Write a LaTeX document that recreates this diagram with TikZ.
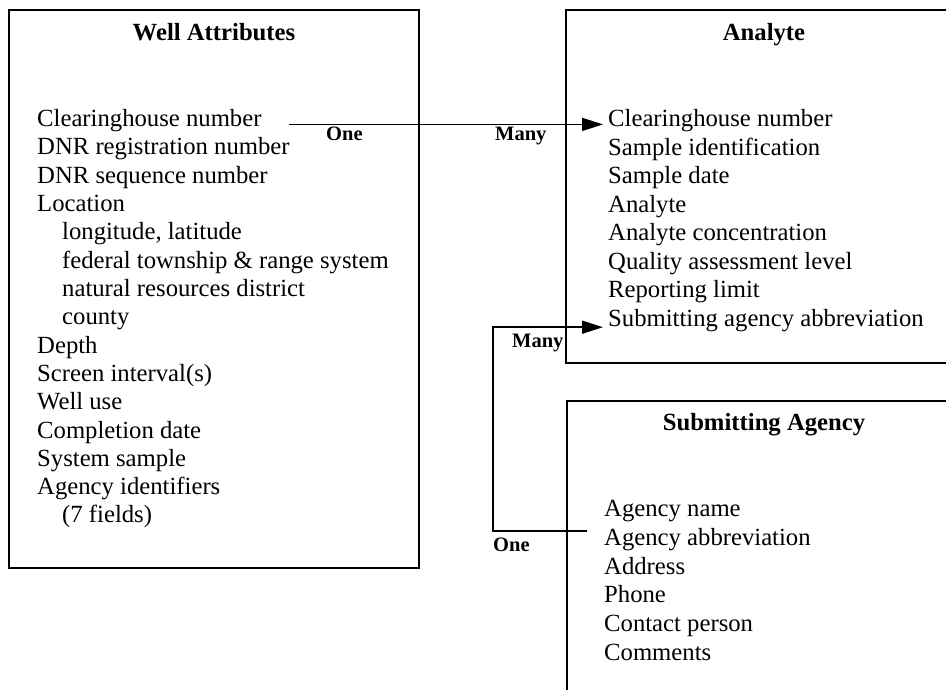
\documentclass[tikz,border=0pt]{standalone}
\usepackage{fontspec}
\setmainfont{Liberation Serif}
\usetikzlibrary{arrows.meta}

\tikzset{
  entity/.style={line width=2pt},
  heading/.style={font=\fontsize{24.7}{28.4}\selectfont\bfseries, anchor=base, inner sep=0pt},
  field/.style={font=\fontsize{24.7}{28.4}\selectfont, anchor=base west, inner sep=0pt},
  card/.style={font=\fontsize{20.5}{24}\selectfont\bfseries, anchor=base west, inner sep=0pt},
  rel/.style={line width=1.7pt, -{Triangle[length=21pt,width=13pt]}},
}

\begin{document}
\begin{tikzpicture}[x=1pt,y=-1pt]
\useasboundingbox (0,0) rectangle (946,690);
\clip (0,0) rectangle (946,690);

% entity boxes
\draw[entity] (9,10) rectangle (419,568);
\draw[entity] (566,10) rectangle (962,363);
\draw[entity] (567,401) rectangle (962,720);

\node[heading] (well) at (214,41) {Well Attributes};
\node[heading] (analyte) at (764,41) {Analyte};
\node[heading] (agency) at (764,430) {Submitting Agency};

% fields
\foreach \x/\t [count=\i from 0] in {37/Clearinghouse number, 37/DNR registration number,
    37/DNR sequence number, 37/Location, 62/{longitude, latitude},
    62/federal township \& range system, 62/natural resources district, 62/county,
    37/Depth, 37/Screen interval(s), 37/Well use, 37/Completion date,
    37/System sample, 37/Agency identifiers, 62/(7 fields)}
  \node[field] (w\i) at (\x,126.7+28.3*\i) {\t};

\foreach \t [count=\i from 0] in {Clearinghouse number, Sample identification, Sample date,
    Analyte, Analyte concentration, Quality assessment level, Reporting limit,
    Submitting agency abbreviation}
  \node[field] (a\i) at (608,126.7+28.5*\i) {\t};

\foreach \t [count=\i from 0] in {Agency name, Agency abbreviation, Address, Phone,
    Contact person, Comments}
  \node[field] (s\i) at (604,516.7+28.7*\i) {\t};

% relations
\draw[rel] ([xshift=27pt]w0.mid east) -- ([xshift=-5pt]a0.mid west);
\draw[rel] ([xshift=-17pt,yshift=14.5pt]s1.base west) -- ++(-94,0)
  |- ([xshift=-5pt,yshift=-1pt]a7.base west);

\node[card] (one1) at (326,141) {One};
\node[card] (many1) at (495,141) {Many};
\node[card] (many2) at (512,347) {Many};
\node[card] (one2) at (493,551) {One};
\end{tikzpicture}
\end{document}
